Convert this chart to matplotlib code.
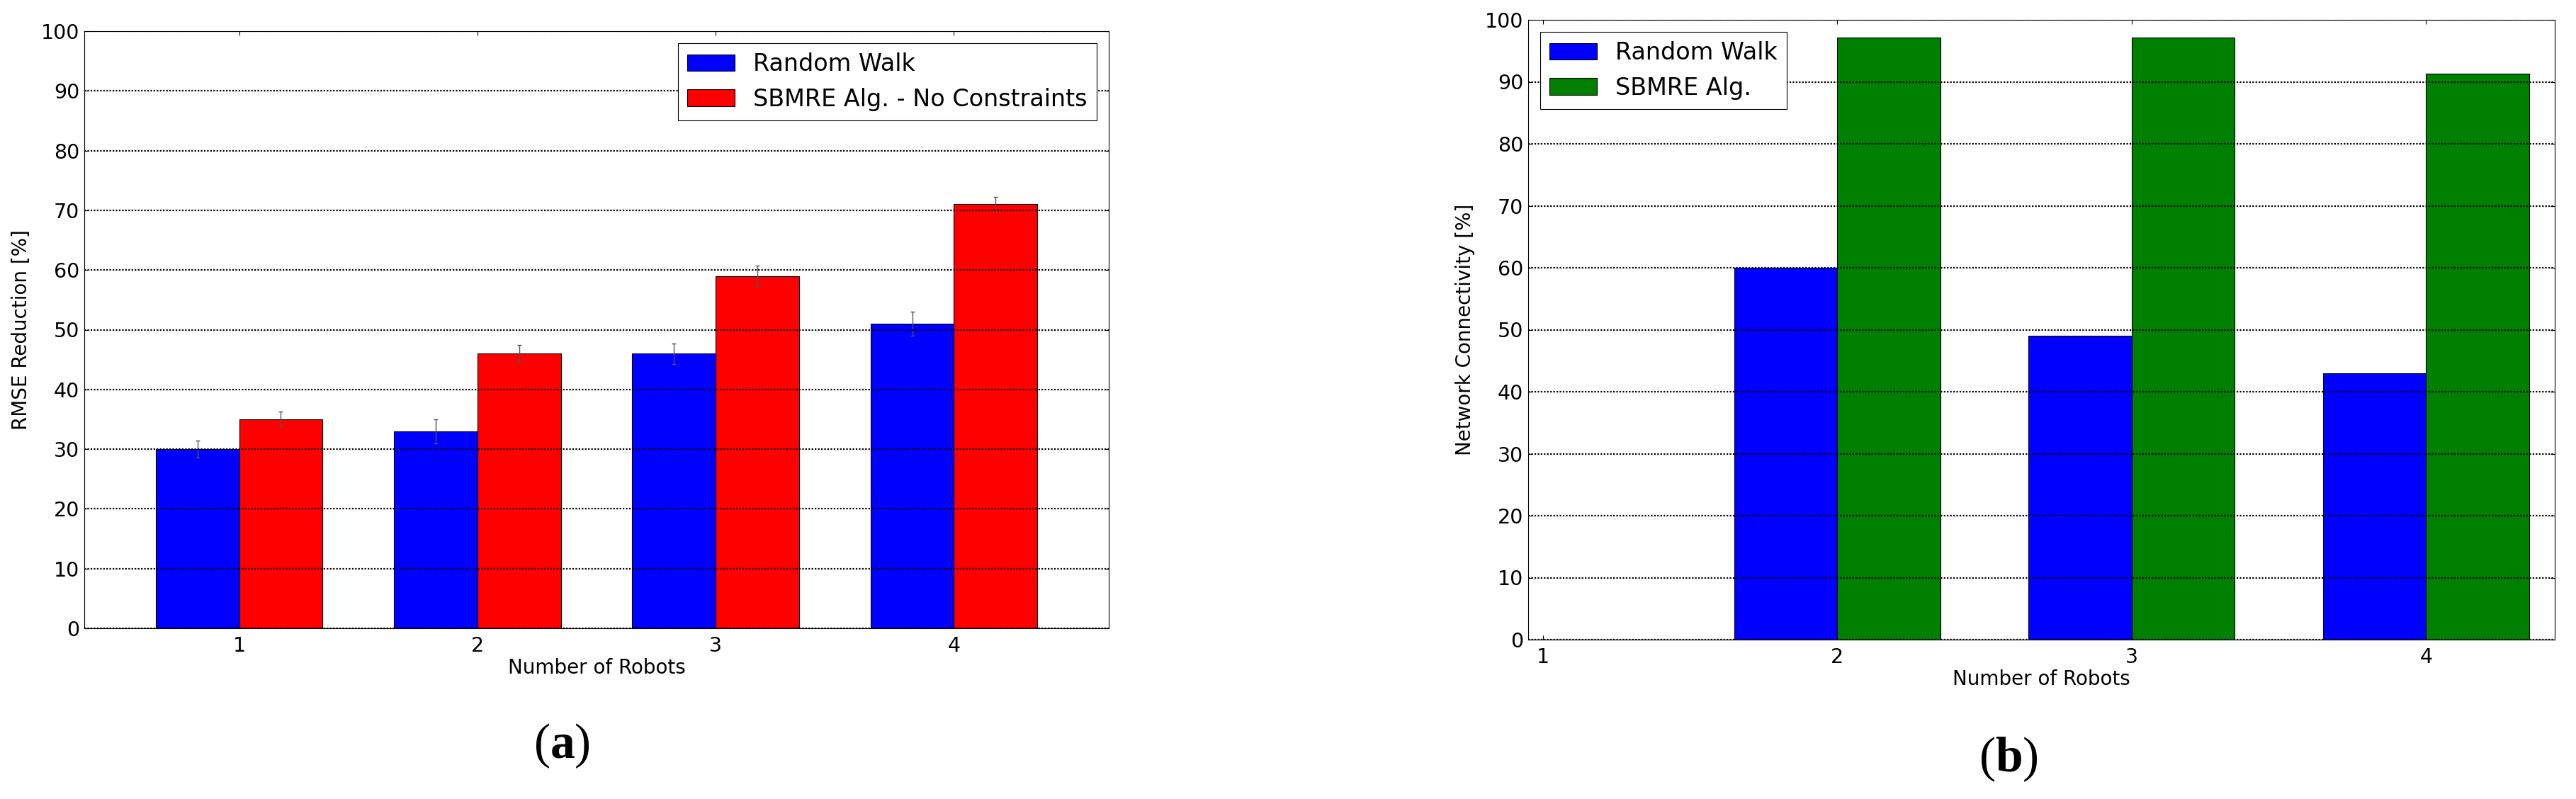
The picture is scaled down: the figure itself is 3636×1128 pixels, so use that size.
import numpy as np
import matplotlib
matplotlib.use("Agg")
import matplotlib.pyplot as plt

# ---------------- data ----------------
robots = [1, 2, 3, 4]
tick_labels = ["1", "2", "3", "4"]

rmse_random_walk = [30, 33, 46, 51]
rmse_random_walk_err = [1.45, 2.0, 1.7, 2.0]
rmse_sbmre = [35, 46, 59, 71]
rmse_sbmre_err = [1.25, 1.5, 1.7, 1.2]

conn_random_walk = [0, 60, 49, 43]
conn_sbmre = [0, 97.1, 97.2, 91.3]

yticks = list(range(0, 101, 10))

# ---------------- style ----------------
plt.rcParams['font.family'] = ['DejaVu Sans']
plt.rcParams['mathtext.fontset'] = 'custom'
plt.rcParams['mathtext.rm'] = 'Liberation Serif'
plt.rcParams['mathtext.bf'] = 'Liberation Serif:bold'

W, H, DPI = 3637, 1128, 100
fig = plt.figure(figsize=(W / DPI, H / DPI), dpi=DPI)

def frac_axes(x0, x1, ytop, ybot):
    return fig.add_axes([x0 / W, 1 - ybot / H, (x1 - x0) / W, (ybot - ytop) / H])

ax1 = frac_axes(119, 1565, 44, 887)
ax2 = frac_axes(2157, 3606, 28, 903)

width = 0.35
x = np.array(robots, dtype=float)
ekw = dict(ecolor='#555555', elinewidth=1.0, capsize=2.5, capthick=1.0)

ax1.bar(x - width / 2, rmse_random_walk, width, yerr=rmse_random_walk_err,
        color='#0000ff', edgecolor='black', linewidth=0.8, error_kw=ekw,
        label='Random Walk', zorder=2)
ax1.bar(x + width / 2, rmse_sbmre, width, yerr=rmse_sbmre_err,
        color='#ff0000', edgecolor='black', linewidth=0.8, error_kw=ekw,
        label='SBMRE Alg. - No Constraints', zorder=2)

ax2.bar(x - width / 2, conn_random_walk, width,
        color='#0000ff', edgecolor='black', linewidth=0.8,
        label='Random Walk', zorder=2)
ax2.bar(x + width / 2, conn_sbmre, width,
        color='#008000', edgecolor='black', linewidth=0.8,
        label='SBMRE Alg.', zorder=2)

ax1.set_xlim(0.35, 4.65)
ax2.set_xlim(0.95, 4.437)

for ax, ylab in ((ax1, 'RMSE Reduction [%]'), (ax2, 'Network Connectivity [%]')):
    ax.set_ylim(0, 100)
    ax.set_yticks(yticks)
    ax.set_xticks(robots)
    ax.set_xticklabels(tick_labels)
    ax.tick_params(direction='in', top=True, right=True, length=4, width=0.8,
                   labelsize=20.5, pad=5)
    ax.tick_params(axis='x', pad=8)
    ax.yaxis.grid(True, color='black', linestyle=(0, (1, 1)), linewidth=1.6, zorder=3)
    ax.set_axisbelow(False)
    for s in ax.spines.values():
        s.set_linewidth(0.8)
        s.set_color('black')
    ax.set_xlabel('Number of Robots', fontsize=20, labelpad=2)
    ax.set_ylabel(ylab, fontsize=20, labelpad=10)

leg_kw = dict(fontsize=24, fancybox=False, framealpha=1, edgecolor='black',
              handlelength=2.0, handleheight=0.7, handletextpad=0.8,
              labelspacing=0.5, borderpad=0.4, borderaxespad=0.5)
l1 = ax1.legend(loc='upper right', **leg_kw)
l2 = ax2.legend(loc='upper left', **leg_kw)
for l in (l1, l2):
    l.get_frame().set_linewidth(0.8)

fig.text(793 / W, 1 - 1053 / H, r'$\mathrm{(}\mathbf{a}\mathrm{)}$', fontsize=50,
         ha='center', va='center')
fig.text(2835 / W, 1 - 1072 / H, r'$\mathrm{(}\mathbf{b}\mathrm{)}$', fontsize=50,
         ha='center', va='center')

fig.savefig('out.png', dpi=DPI, facecolor='white')
